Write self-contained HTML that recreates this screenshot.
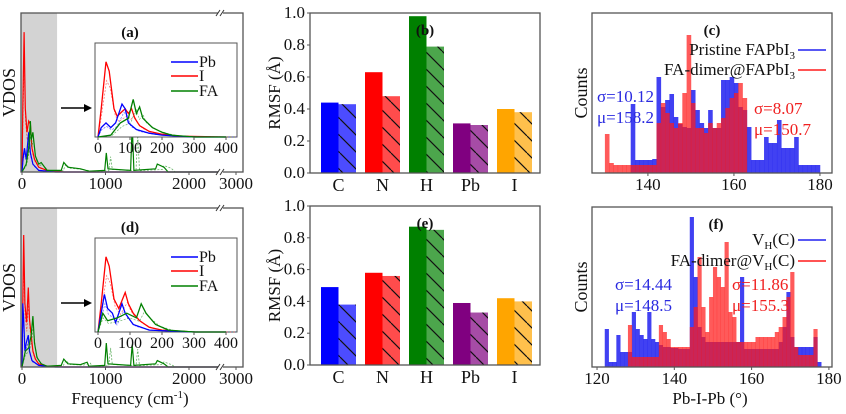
<!DOCTYPE html>
<html><head><meta charset="utf-8"><style>
html,body{margin:0;padding:0;background:#fff;width:846px;height:414px;overflow:hidden}
svg, svg text{font-family:"Liberation Serif","Times New Roman",Times,"DejaVu Serif",serif}
</style></head><body>
<svg id="fig" width="846" height="414" viewBox="0 0 846 414" xmlns="http://www.w3.org/2000/svg" font-family="Liberation Serif, Times New Roman, DejaVu Serif, serif" style="position:absolute;left:0;top:0">
<defs>
<pattern id="hatch" patternUnits="userSpaceOnUse" width="17" height="17"><path d="M0,0 L17,17 M-17,0 L0,17 M0,-17 L17,0" stroke="#111" stroke-width="1.2"/></pattern>
</defs>
</svg>
<script>
// ---------- data ----------
const rmsfCats = ["C","N","H","Pb","I"];
const rmsfColors = ["#0000ff","#ff0000","#008000","#800080","#ffa500"];
const rmsfB_solid = [0.44,0.63,0.98,0.31,0.40];
const rmsfB_hatch = [0.43,0.48,0.79,0.30,0.38];
const rmsfE_solid = [0.49,0.58,0.87,0.39,0.42];
const rmsfE_hatch = [0.38,0.56,0.85,0.33,0.40];
const rmsfTicks = [0.0,0.2,0.4,0.6,0.8,1.0];

const histC_blueStart = 136;
const histC_blue = [69,13,13,13,13,14,96,66,73,79,56,49,46,45,83,63,50,45,63,45,45,93,93,96,90,66,63,46,13,13,13,36,30,30,53,25,25,25,36,8,8,8,8,8];
const histC_redStart = 130;
const histC_red = [39,10,8,8,8,8,8,8,8,8,8,8,50,70,60,50,45,50,80,138,70,45,45,40,50,45,50,55,65,75,80,90,75];
const histF_blueStart = 122;
const histF_blue = [38,5,5,32,15,15,15,55,38,32,28,55,28,25,22,20,20,19,19,18,18,18,150,90,40,30,25,25,25,25,25,25,25,25,25,90,18,18,18,18,18,18,18,18,18,25,40,75,30,20,20,20,20,20,30,5];
const histF_redStart = 128;
const histF_red = [42,10,10,10,10,10,10,10,42,35,28,20,20,20,20,20,40,60,110,60,35,70,100,90,80,125,55,50,25,25,25,25,25,30,30,30,30,30,35,40,50,70,95,20,12,12,12,12,38];
const histCTicks = [140,160,180];
const histFTicks = [120,140,160,180];

const vdosA_I  = [[0,0],[10,0.4],[25,0.88],[40,0.4],[60,0.25],[80,0.32],[100,0.3],[120,0.15],[150,0.08],[200,0.03],[300,0.01],[500,0],[2400,0]];
const vdosA_Pb = [[0,0],[15,0.1],[30,0.15],[50,0.08],[80,0.25],[100,0.12],[130,0.05],[200,0.01],[400,0],[2400,0]];
const vdosA_FA = [[0,0],[50,0.05],[80,0.15],[100,0.32],[110,0.2],[130,0.25],[160,0.1],[200,0.05],[230,0.06],[300,0.01],[470,0.01],[500,0.06],[550,0.03],[700,0.02],[800,0.005],[990,0.01],[1010,0.12],[1030,0.02],[1300,0.01],[1320,0.3],[1340,0.01],[1600,0.02],[1620,0.05],[1700,0.03],[1750,0],[2400,0]];
const vdosD_I  = [[0,0],[10,0.4],[20,0.83],[35,0.4],[55,0.28],[75,0.5],[90,0.3],[110,0.2],[130,0.1],[160,0.05],[200,0.02],[300,0.005],[500,0],[2400,0]];
const vdosD_Pb = [[0,0],[10,0.4],[20,0.3],[35,0.1],[50,0.15],[75,0.2],[90,0.1],[120,0.04],[200,0.01],[400,0],[2400,0]];
const vdosD_FA = [[0,0],[40,0.1],[80,0.12],[110,0.2],[130,0.32],[150,0.15],[180,0.06],[230,0.02],[300,0.005],[470,0.01],[500,0.05],[550,0.02],[700,0.015],[780,0.03],[800,0.005],[990,0.01],[1010,0.15],[1030,0.02],[1300,0.01],[1320,0.14],[1340,0.01],[1600,0.02],[1620,0.04],[1700,0.02],[1750,0],[2400,0]];
const insetA_I  = [[0,0],[10,0.3],[25,0.8],[35,0.7],[50,0.3],[60,0.22],[75,0.27],[85,0.3],[95,0.25],[105,0.3],[115,0.2],[130,0.12],[160,0.06],[200,0.03],[250,0.01],[400,0]];
const insetA_Pb = [[0,0],[10,0.1],[25,0.15],[40,0.1],[55,0.15],[75,0.35],[85,0.3],[95,0.15],[120,0.08],[160,0.04],[200,0.02],[300,0],[400,0]];
const insetA_FA = [[0,0],[40,0.02],[70,0.15],[95,0.2],[110,0.4],[120,0.25],[130,0.32],[140,0.2],[170,0.1],[200,0.05],[230,0.02],[300,0],[400,0]];
const insetD_I  = [[0,0],[10,0.3],[25,0.8],[35,0.7],[50,0.35],[65,0.25],[85,0.42],[95,0.3],[110,0.2],[130,0.12],[160,0.05],[200,0.02],[300,0],[400,0]];
const insetD_Pb = [[0,0],[10,0.2],[20,0.4],[30,0.25],[45,0.2],[55,0.1],[75,0.3],[85,0.2],[110,0.08],[160,0.02],[300,0],[400,0]];
const insetD_FA = [[0,0],[15,0.2],[30,0.12],[60,0.15],[90,0.2],[120,0.15],[135,0.3],[150,0.2],[180,0.08],[220,0.02],[300,0],[400,0]];
const vdosTicks = [0,1000,2000,3000];
const insetTicks = [0,100,200,300,400];

const NS="http://www.w3.org/2000/svg";
const FF="Liberation Serif, Times New Roman, DejaVu Serif, serif";
const svg=document.getElementById('fig');
function mk(tag,attrs,parent){const e=document.createElementNS(NS,tag);for(const k in attrs)e.setAttribute(k,attrs[k]);(parent||svg).appendChild(e);return e;}
function txt(x,y,s,size,anchor,fill,extra){const t=mk('text',Object.assign({x:x,y:y,'font-size':size,'font-family':FF,'text-anchor':anchor||'middle',fill:fill||'#111'},extra||{}));t.textContent=s;return t;}
function frame(x0,y0,x1,y1){return mk('rect',{x:x0,y:y0,width:x1-x0,height:y1-y0,fill:'none',stroke:'#555','stroke-width':1.3});}

function vdosPanel(oy,I,Pb,FA,iI,iPb,iFA,label,nm){
  const x0=21,x1=243,y0=13+oy,y1=172+oy;
  const g=mk('g',{});
  
  
  const xs=f=> f<=2400 ? 22+f*0.0835 : 224+(f-2900)*0.095;
  const ys=v=> y1-v*(y1-y0);
  const sh=mk('rect',{x:x0,y:y0,width:xs(420)-x0,height:y1-y0,fill:'#d3d3d3'},g);
  
  
  [[I,'#ff0000','i'],[Pb,'#0000ff','pb'],[FA,'#008000','fa']].forEach(s=>{
    const p=mk('polyline',{points:s[0].map(d=>xs(d[0]).toFixed(1)+','+ys(d[1]).toFixed(1)).join(' '),fill:'none',stroke:s[1],'stroke-width':1.2},g);
    
    
    const p2=mk('polyline',{points:s[0].map(d=>xs(d[0]*1.05).toFixed(1)+','+ys(d[1]*0.8).toFixed(1)).join(' '),fill:'none',stroke:s[1],'stroke-width':0.8,'stroke-dasharray':'2,1.5',opacity:0.6},g);
    
    
  });
  const fr=frame(x0,y0,x1,y1);g.appendChild(fr);
  
  
  [[220,y0],[220,y1]].forEach(b=>{
    mk('rect',{x:b[0]-2,y:b[1]-3,width:5,height:6,fill:'#fff'},g);
    mk('path',{d:`M${b[0]-4},${b[1]+3} L${b[0]},${b[1]-3} M${b[0]},${b[1]+3} L${b[0]+4},${b[1]-3}`,stroke:'#333','stroke-width':1,fill:'none'},g);
  });
  vdosTicks.forEach(t=>{
    const x=t===3000?236:xs(t);
    mk('line',{x1:x,x2:x,y1:y1,y2:y1+3,stroke:'#555'},g);
    const tl=txt(x,y1+17,String(t),17);
    
    
  });
  const ix0=95,ix1=237,iy0=43+oy,iy1=137+oy;
  const ixs=f=>98+f*0.32, iys=v=>iy1-v*(iy1-iy0);
  const ib=mk('rect',{x:ix0,y:iy0,width:ix1-ix0,height:iy1-iy0,fill:'#fff',stroke:'#555','stroke-width':1},g);
  
  
  [[iI,'#ff0000','i'],[iPb,'#0000ff','pb'],[iFA,'#008000','fa']].forEach(s=>{
    const p=mk('polyline',{points:s[0].map(d=>ixs(d[0]).toFixed(1)+','+iys(d[1]).toFixed(1)).join(' '),fill:'none',stroke:s[1],'stroke-width':1.3},g);
    
    
    const p2=mk('polyline',{points:s[0].map(d=>ixs(d[0]*1.08).toFixed(1)+','+iys(d[1]*0.75).toFixed(1)).join(' '),fill:'none',stroke:s[1],'stroke-width':0.7,'stroke-dasharray':'2,1.5',opacity:0.6},g);
    
    
  });
  insetTicks.forEach(t=>{
    mk('line',{x1:ixs(t),x2:ixs(t),y1:iy1,y2:iy1+3,stroke:'#555'},g);
    const tl=txt(ixs(t),iy1+16,String(t),16);
    
    
  });
  [['Pb','#0000ff',62],['I','#ff0000',76],['FA','#008000',91]].forEach(l=>{
    mk('line',{x1:171,x2:198,y1:l[2]+oy,y2:l[2]+oy,stroke:l[1],'stroke-width':1.5},g);
    const lt=txt(199,l[2]+oy+5,l[0],16,'start');
    
    
  });
  mk('line',{x1:61,x2:86,y1:108+oy,y2:108+oy,stroke:'#000','stroke-width':1.5},g);
  mk('path',{d:`M84,${104+oy} L92,${108+oy} L84,${112+oy} Z`,fill:'#000'},g);
  const pl=txt(130,37+oy,label,15,'middle','#111',{'font-weight':'bold'});
  
  
  const yl=txt(0,0,'VDOS',18,'middle','#111',{transform:`translate(15,${(y0+y1)/2}) rotate(-90)`});
  
  
}
vdosPanel(0,vdosA_I,vdosA_Pb,vdosA_FA,insetA_I,insetA_Pb,insetA_FA,'(a)','a');
vdosPanel(195,vdosD_I,vdosD_Pb,vdosD_FA,insetD_I,insetD_Pb,insetD_FA,'(d)','d');
const ft=txt(130,404,'Frequency (cm',17);


const sup=mk('tspan',{dy:-6,'font-size':11});sup.textContent='-1';ft.appendChild(sup);
const cl=mk('tspan',{dy:6});cl.textContent=')';ft.appendChild(cl);

function rmsfPanel(y0,y1,solid,hatch,label,nm){
  const x0=310,x1=540;
  const g=mk('g',{});
  
  
  const ys=v=>y1-v*(y1-y0);
  const gx=i=>321+i*44;
  rmsfCats.forEach((c,i)=>{
    const b=mk('rect',{x:gx(i),y:ys(solid[i]),width:17.5,height:ys(0)-ys(solid[i]),fill:rmsfColors[i]},g);
    
    
    const h=mk('rect',{x:gx(i)+17.5,y:ys(hatch[i]),width:17.5,height:ys(0)-ys(hatch[i]),fill:rmsfColors[i],opacity:0.7},g);
    
    
    mk('rect',{x:gx(i)+17.5,y:ys(hatch[i]),width:17.5,height:ys(0)-ys(hatch[i]),fill:'url(#hatch)'},g);
    const tl=txt(gx(i)+17.5,y1+18,c,18);
    
    
  });
  const fr=frame(x0,y0,x1,y1);g.appendChild(fr);
  
  
  rmsfTicks.forEach(t=>{
    mk('line',{x1:x0-3,x2:x0,y1:ys(t),y2:ys(t),stroke:'#555'},g);
    const tl=txt(x0-5,ys(t)+5,t.toFixed(1),17,'end');
    
    
  });
  const pl=txt(425,y0+22,label,15,'middle','#111',{'font-weight':'bold'});
  
  
  const yl=txt(0,0,'RMSF (Å)',17,'middle','#111',{transform:`translate(280,${(y0+y1)/2}) rotate(-90)`});
  
  
}
rmsfPanel(13,173,rmsfB_solid,rmsfB_hatch,'(b)','b');
rmsfPanel(206,365,rmsfE_solid,rmsfE_hatch,'(e)','e');

function histPanel(y0,y1,dmin,dmax,blue,bStart,red,rStart,ticks,label,nm){
  const x0=592,x1=832;
  const g=mk('g',{});
  
  
  const xs=d=>x0+(d-dmin)/(dmax-dmin)*(x1-x0);
  const ys=v=>y1-v;
  blue.forEach((v,i)=>{
    const r=mk('rect',{x:xs(bStart+i),y:ys(v),width:xs(bStart+i+1)-xs(bStart+i)+0.3,height:v,fill:'#2020f0',opacity:0.85},g);
    
    
  });
  red.forEach((v,i)=>{
    const r=mk('rect',{x:xs(rStart+i),y:ys(v),width:xs(rStart+i+1)-xs(rStart+i)+0.3,height:v,fill:'#ff1a1a',opacity:0.72},g);
    
    
  });
  const fr=frame(x0,y0,x1,y1);g.appendChild(fr);
  
  
  ticks.forEach(t=>{
    mk('line',{x1:xs(t),x2:xs(t),y1:y1,y2:y1+3,stroke:'#555'},g);
    const tl=txt(xs(t),y1+17,String(t),17);
    
    
  });
  const pl=txt(label==='(c)'?712:716,y0+22,label,15,'middle','#111',{'font-weight':'bold'});
  
  
  const yl=txt(0,0,'Counts',18,'middle','#111',{transform:`translate(587,${(y0+y1)/2}) rotate(-90)`});
  
  
}
histPanel(13,173,127,182.8,histC_blue,histC_blueStart,histC_red,histC_redStart,histCTicks,'(c)','c');
histPanel(207,367,118.7,180.8,histF_blue,histF_blueStart,histF_red,histF_redStart,histFTicks,'(f)','f');
</script>
<svg width="846" height="414" style="position:absolute;left:0;top:0" font-family="Liberation Serif, Times New Roman, DejaVu Serif, serif">
  <text x="795" y="55" font-size="17" text-anchor="end" fill="#111">Pristine FAPbI<tspan font-size="11" dy="4">3</tspan></text>
  <line x1="798" y1="50" x2="826" y2="50" stroke="#2020f0" stroke-width="1.5"/>
  <text x="795" y="75" font-size="17" text-anchor="end" fill="#111">FA-dimer@FAPbI<tspan font-size="11" dy="4">3</tspan></text>
  <line x1="798" y1="70" x2="826" y2="70" stroke="#ff1a1a" stroke-width="1.5"/>
  <text x="597" y="102" font-size="17" fill="#2a2ae0">σ=10.12</text>
  <text x="597" y="123" font-size="17" fill="#2a2ae0">μ=158.2</text>
  <text x="754" y="114" font-size="17" fill="#f02020">σ=8.07</text>
  <text x="754" y="135" font-size="17" fill="#f02020">μ=150.7</text>
  <text x="795" y="245" font-size="17" text-anchor="end" fill="#111">V<tspan font-size="11" dy="4">H</tspan><tspan dy="-4">(C)</tspan></text>
  <line x1="798" y1="240" x2="826" y2="240" stroke="#2020f0" stroke-width="1.5"/>
  <text x="795" y="266" font-size="17" text-anchor="end" fill="#111">FA-dimer@V<tspan font-size="11" dy="4">H</tspan><tspan dy="-4">(C)</tspan></text>
  <line x1="798" y1="261" x2="826" y2="261" stroke="#ff1a1a" stroke-width="1.5"/>
  <text x="615" y="290" font-size="17" fill="#2a2ae0">σ=14.44</text>
  <text x="615" y="311" font-size="17" fill="#2a2ae0">μ=148.5</text>
  <text x="732" y="290" font-size="17" fill="#f02020">σ=11.86</text>
  <text x="732" y="311" font-size="17" fill="#f02020">μ=155.3</text>
  <text x="710" y="404" font-size="17" text-anchor="middle" fill="#111">Pb-I-Pb (°)</text>
</svg>
</body></html>
